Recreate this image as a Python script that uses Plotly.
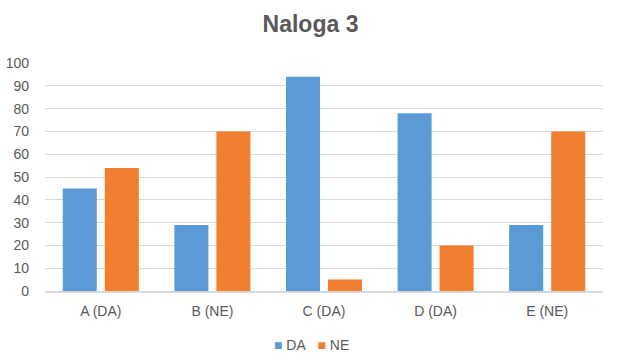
import plotly.graph_objects as go

categories = ["A (DA)", "B (NE)", "C (DA)", "D (DA)", "E (NE)"]
da_values = [45, 29, 94, 78, 29]
ne_values = [54, 70, 5, 20, 70]
y_ticks = [0, 10, 20, 30, 40, 50, 60, 70, 80, 90, 100]
series_names = ["DA", "NE"]
series_colors = ["#5B9BD5", "#F07F2F"]

fig = go.Figure()
for name, vals, col in zip(series_names, [da_values, ne_values], series_colors):
    fig.add_trace(go.Bar(name=name, x=categories, y=vals, showlegend=False,
                         marker=dict(color=col, line=dict(width=0))))

font_family = "Liberation Sans, Arial, sans-serif"
legend_text = "&nbsp;&nbsp;&nbsp;".join(
    f"<span style='color:{c}'>■</span> {n}" for n, c in zip(series_names, series_colors)
)
fig.add_annotation(text=legend_text, xref="paper", yref="paper",
                   x=(311 - 45) / 558, xanchor="center",
                   y=(291 - 345) / 228, yanchor="middle", showarrow=False,
                   font=dict(family=font_family, size=14, color="#595959"))

fig.update_layout(
    width=621, height=363,
    margin=dict(l=45, r=18, t=63, b=72, autoexpand=False),
    paper_bgcolor="white", plot_bgcolor="white",
    barmode="group", bargap=0.247, bargroupgap=0.19,
    title=dict(text="<b>Naloga 3</b>", x=0.5, xanchor="center", y=1 - 24 / 363,
               yanchor="middle", yref="container", pad=dict(t=0, b=0),
               font=dict(family=font_family, size=23, color="#595959")),
    font=dict(family=font_family, size=14, color="#595959"),
    showlegend=False,
)
fig.update_yaxes(range=[0, 100], tickvals=y_ticks, showgrid=True, gridcolor="#D9D9D9",
                 gridwidth=1, zeroline=False, showline=False, ticks="",
                 ticklabelstandoff=15,
                 tickfont=dict(size=14, color="#595959"), fixedrange=True)
fig.update_xaxes(showline=True, linecolor="#D9D9D9", linewidth=2, ticks="",
                 ticklabelstandoff=6,
                 tickfont=dict(size=14, color="#595959"), fixedrange=True)

fig.write_html("out.html", post_script="document.body.style.margin='0';",
               config={"displayModeBar": False, "staticPlot": True})
